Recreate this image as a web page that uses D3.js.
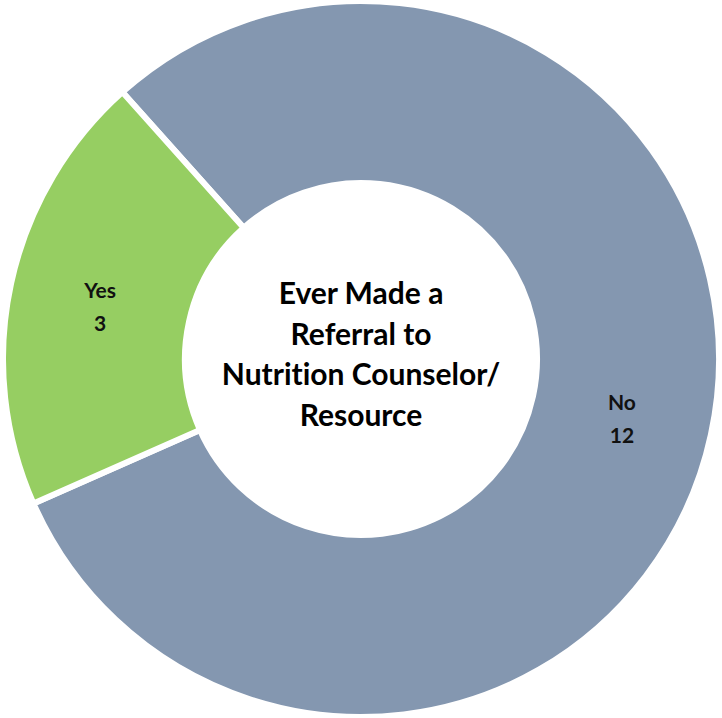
<!DOCTYPE html>
<html>
<head>
<meta charset="utf-8">
<script src="https://cdn.jsdelivr.net/npm/d3@7"></script>
<style>
  body { margin: 0; background: #fff; }
  svg { display: block; font-family: Lato, "Open Sans", sans-serif; font-variant-ligatures: none; }
</style>
</head>
<body>
<div id="chart"></div>
<script>
const categories = ['No', 'Yes'];
const counts = [12, 3];
const colors = ['#8497B0', '#96CE62'];
const titleLines = ['Ever Made a', 'Referral to', 'Nutrition Counselor/', 'Resource'];

const width = 722, height = 718;
const cx = 361, cy = 359;
const outerR = 358, innerR = 176;

const svg = d3.select('#chart').append('svg')
    .attr('width', width)
    .attr('height', height);

const g = svg.append('g').attr('transform', `translate(${cx},${cy})`);

// No slice starts at roughly 318 degrees (clockwise from top)
const start = -41.8 * Math.PI / 180;
const pie = d3.pie().sort(null).value(d => d.value)
    .startAngle(start).endAngle(start + 2 * Math.PI);
const arc = d3.arc().innerRadius(innerR).outerRadius(outerR);

const data = categories.map((c, i) => ({ name: c, value: counts[i], color: colors[i] }));

// faint outline round the ring
g.append('circle')
    .attr('r', outerR + 1)
    .attr('fill', 'none')
    .attr('stroke', '#c8c8c8')
    .attr('stroke-width', 1)
    .attr('stroke-dasharray', '2,2');
g.append('circle')
    .attr('r', innerR - 1)
    .attr('fill', 'none')
    .attr('stroke', '#dcdcdc')
    .attr('stroke-width', 1)
    .attr('stroke-dasharray', '2,2');

const slices = g.selectAll('.slice')
    .data(pie(data))
    .enter().append('g')
    .attr('class', 'slice');

slices.append('path')
    .attr('d', arc)
    .attr('fill', d => d.data.color)
    .attr('stroke', '#fff')
    .attr('stroke-width', 6)
    .attr('stroke-linejoin', 'miter');

const labels = slices.append('text')
    .attr('transform', d => `translate(${arc.centroid(d)})`)
    .attr('text-anchor', 'middle')
    .attr('font-size', 21)
    .attr('font-weight', 'bold')
    .attr('fill', '#111');
labels.append('tspan').attr('x', 0).attr('y', -5).text(d => d.data.name);
labels.append('tspan').attr('x', 0).attr('y', 28).text(d => d.data.value);

// centre title
const title = g.append('text')
    .attr('text-anchor', 'middle')
    .attr('font-size', 30)
    .attr('font-weight', 'bold')
    .attr('fill', '#000');
title.selectAll('tspan')
    .data(titleLines)
    .enter().append('tspan')
    .attr('x', 0)
    .attr('y', (d, i) => -55 + i * 40.5)
    .text(d => d);
</script>
</body>
</html>
